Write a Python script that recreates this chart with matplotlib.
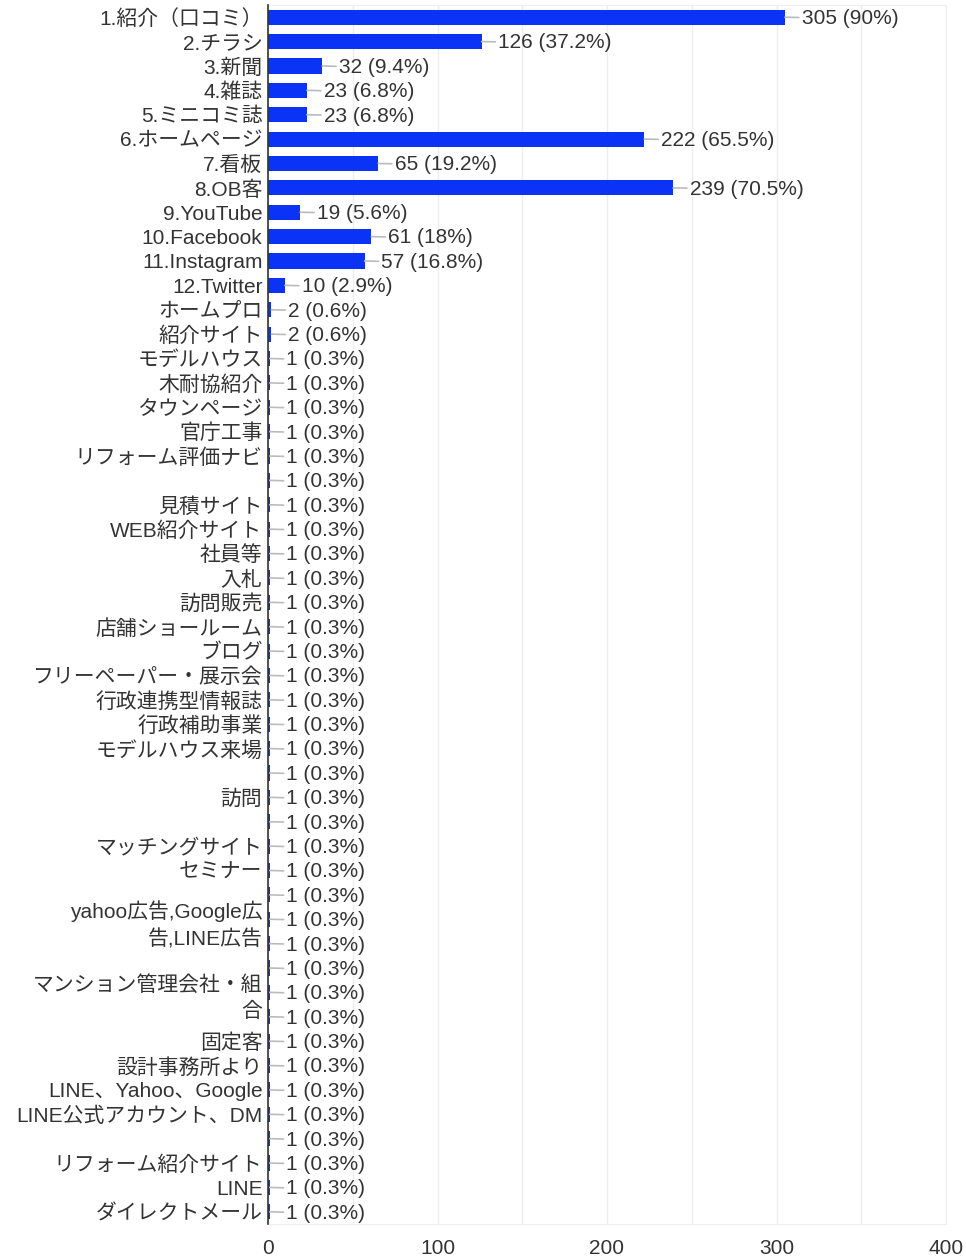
import matplotlib
matplotlib.use("Agg")
import matplotlib.pyplot as plt

plt.rcParams['font.family'] = ['Liberation Sans', 'Noto Sans CJK JP', 'DejaVu Sans']

labels = [
    "1.紹介（口コミ）", "2.チラシ", "3.新聞", "4.雑誌", "5.ミニコミ誌",
    "6.ホームページ", "7.看板", "8.OB客", "9.YouTube", "10.Facebook",
    "11.Instagram", "12.Twitter", "ホームプロ", "紹介サイト", "モデルハウス",
    "木耐協紹介", "タウンページ", "官庁工事", "リフォーム評価ナビ", "",
    "見積サイト", "WEB紹介サイト", "社員等", "入札", "訪問販売",
    "店舗ショールーム", "ブログ", "フリーペーパー・展示会", "行政連携型情報誌", "行政補助事業",
    "モデルハウス来場", "", "訪問", "", "マッチングサイト",
    "セミナー", "", "yahoo広告,Google広\n告,LINE広告", "", "",
    "マンション管理会社・組\n合", "", "固定客", "設計事務所より", "LINE、Yahoo、Google",
    "LINE公式アカウント、DM", "", "リフォーム紹介サイト", "LINE", "ダイレクトメール",
]
counts = [305, 126, 32, 23, 23, 222, 65, 239, 19, 61, 57, 10, 2, 2] + [1] * 36
pcts = ["90%", "37.2%", "9.4%", "6.8%", "6.8%", "65.5%", "19.2%", "70.5%",
        "5.6%", "18%", "16.8%", "2.9%", "0.6%", "0.6%"] + ["0.3%"] * 36

fig = plt.figure(figsize=(9.66, 12.56), dpi=100)
ax = fig.add_axes([268 / 966, 1 - 1224 / 1256, (946 - 268) / 966, (1224 - 5) / 1256])

y = list(range(len(labels)))
ax.barh(y, counts, height=0.62, color='#0a33f5', zorder=3)

for i, (c, p) in enumerate(zip(counts, pcts)):
    ax.annotate(f"{c} ({p})", xy=(c, i), xytext=(12, -1), textcoords='offset points',
                ha='left', va='center', fontsize=15, color='#333333',
                arrowprops=dict(arrowstyle='-', color='#bbbbbb', lw=1.2,
                                shrinkA=0, shrinkB=0), zorder=4)

ax.set_yticks(y)
ax.set_yticklabels(labels, fontsize=15, color='#333333', linespacing=1.45)
ax.set_ylim(len(labels) - 0.5, -0.5)
ax.set_xlim(0, 400)
ax.set_xticks([0, 100, 200, 300, 400])
ax.set_xticks(range(0, 401, 50), minor=True)
ax.tick_params(axis='x', which='both', length=0, labelsize=15, labelcolor='#333333', pad=11)
ax.tick_params(axis='y', length=0, pad=4)
ax.grid(True, axis='x', which='both', color='#eeeeee', lw=1, zorder=0)

for side in ['top', 'right', 'bottom']:
    ax.spines[side].set_color('#eeeeee')
ax.spines['left'].set_color('#333333')
ax.spines['left'].set_linewidth(1.2)
ax.spines['left'].set_zorder(5)

fig.savefig("out.png", dpi=100)
